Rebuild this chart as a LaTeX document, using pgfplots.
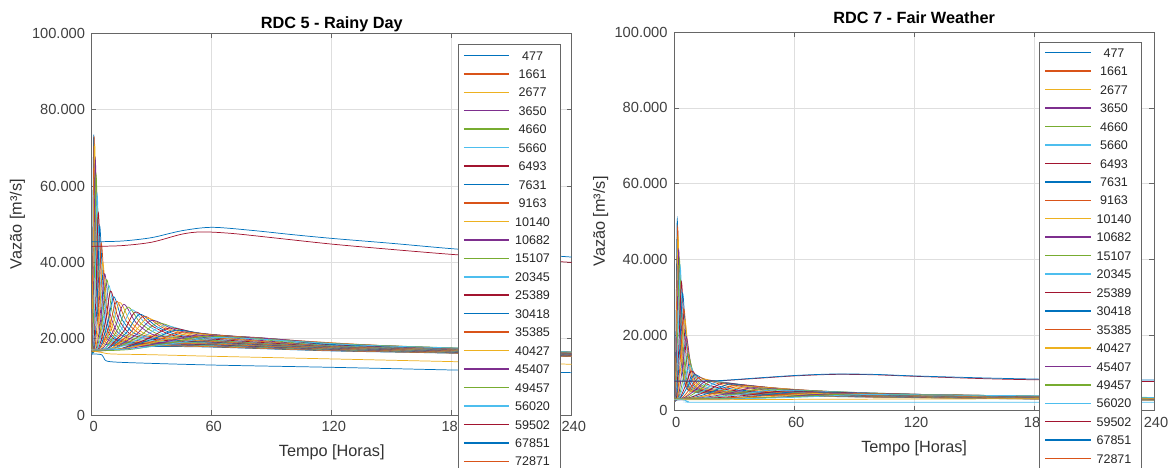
\documentclass[border=0pt]{standalone}
\usepackage{fontspec}
\setmainfont{Liberation Sans}
\usepackage{pgfplots}
\pgfplotsset{compat=1.18}

% MATLAB default line colours
\definecolor{c1}{RGB}{0,114,189}
\definecolor{c2}{RGB}{217,83,25}
\definecolor{c3}{RGB}{237,177,32}
\definecolor{c4}{RGB}{126,47,142}
\definecolor{c5}{RGB}{119,172,48}
\definecolor{c6}{RGB}{77,190,238}
\definecolor{c7}{RGB}{162,20,47}

\newcommand{\lgd}[1]{\addlegendentry{\makebox[30pt][c]{#1}}}

\pgfplotsset{
  rdc/.style={
    scale only axis,
    xmin=0, xmax=240, ymin=0, ymax=100000,
    xtick={0,60,120,180,240}, xticklabels={0,60,120,180,240},
    ytick={0,20000,40000,60000,80000,100000},
    yticklabels={0,20.000,40.000,60.000,80.000,100.000},
    scaled y ticks=false,
    grid=major, grid style={black!13, line width=0.5pt},
    axis line style={black!60}, tick style={black!60, line width=0.5pt},
    major tick length=3.5pt, tick align=inside,
    tick label style={font=\fontsize{11}{13}\selectfont, text=black!75},
    yticklabel style={xshift=-1.5pt},
    xticklabel style={yshift=-1pt, xshift=1.5pt},
    label style={font=\fontsize{12.2}{14}\selectfont, text=black!80},
    title style={font=\bfseries\fontsize{12.2}{14}\selectfont, at={(0.5,1)}, anchor=south},
    xlabel={Tempo [Horas]}, ylabel={Vazão [m³/s]},
    legend style={at={(rel axis cs:1,1)}, anchor=north east, draw=black!60, fill=white,
      line width=0.5pt, font=\fontsize{9.4}{11}\selectfont, text=black!85,
      inner xsep=3.75pt, inner ysep=4.5pt, row sep=6.84pt, column sep=0pt,
      nodes={inner ysep=0pt, text height=7pt, text depth=0pt}},
    legend image code/.code={\draw[#1, line width=1.1pt] (0pt,0pt) -- (34pt,0pt);},
    every axis plot/.append style={line width=0.55pt, smooth},
  }
}

\begin{document}
\begin{tikzpicture}

% ---------------- RDC 5 - Rainy Day ----------------
\begin{axis}[rdc, at={(68.8pt,39pt)}, anchor=south west, width=360pt, height=286.1pt,
  title={RDC 5 - Rainy Day}, title style={yshift=-8.25pt},
  xlabel style={at={(axis description cs:0.5,-0.0989)}, anchor=center},
  ylabel style={at={(axis description cs:-0.1547,0.5)}, anchor=center},
  legend style={xshift=-8.4pt, yshift=-8.1pt}]
\addplot[draw=c1] coordinates {(0,17000)(0.5,45000)(1,73500)(1.8,45000)(3,26000)(5,19500)(10,18300)(30,18000)(60,17800)(120,16800)(180,16200)(240,15300)}; \lgd{477}
\addplot[draw=c2] coordinates {(0,16800)(0.6,44000)(1.2,73000)(2.1,44000)(3.5,25500)(6,19600)(12,18500)(30,18200)(60,17900)(120,16900)(180,16250)(240,15350)}; \lgd{1661}
\addplot[draw=c3] coordinates {(0,17200)(0.8,42000)(1.5,71000)(2.5,43000)(4,25500)(7,19700)(14,18600)(30,18300)(60,18000)(120,16950)(180,16300)(240,15400)}; \lgd{2677}
\addplot[draw=c4] coordinates {(0,16900)(0.3,17500)(1.1,40000)(1.8,67000)(3,40000)(4.8,25000)(8,19800)(15,18700)(30,18400)(60,18100)(120,17000)(180,16350)(240,15450)}; \lgd{3650}
\addplot[draw=c5] coordinates {(0,17000)(0.5,17600)(1.4,38000)(2.2,63000)(3.5,38500)(5.5,24500)(9,19900)(16,18800)(30,18500)(60,18200)(120,17100)(180,16400)(240,15500)}; \lgd{4660}
\addplot[draw=c6] coordinates {(0,16600)(0.8,17300)(1.8,35000)(2.7,58000)(4.2,36000)(6.5,23500)(10,19900)(17,18900)(30,18600)(60,18300)(120,17200)(180,16450)(240,15550)}; \lgd{5660}
\addplot[draw=c7] coordinates {(0,17000)(1,17500)(2.2,33000)(3.3,53000)(5,34000)(7.5,23000)(11,20000)(18,19000)(30,18700)(60,18400)(120,17250)(180,16500)(240,15600)}; \lgd{6493}
\addplot[draw=c1] coordinates {(0,16800)(1.3,17300)(2.8,31000)(4,49500)(5.8,32500)(8.5,22800)(12,20100)(19,19100)(30,18800)(60,18500)(120,17300)(180,16550)(240,15650)}; \lgd{7631}
\addplot[draw=c2] coordinates {(0,17200)(1.6,17600)(3.4,29000)(4.8,45000)(6.8,30500)(9.8,22500)(13.5,20200)(20,19200)(30,18900)(60,18600)(120,17350)(180,16600)(240,15700)}; \lgd{9163}
\addplot[draw=c3] coordinates {(0,16900)(2,17400)(4,27500)(5.5,40000)(7.7,28500)(11,22300)(15,20300)(22,19300)(30,19000)(60,18700)(120,17400)(180,16650)(240,15750)}; \lgd{10140}
\addplot[draw=c4] coordinates {(0,17000)(2.3,17500)(4.7,26000)(6.5,37000)(9,27000)(12.5,22000)(17,20400)(24,19400)(35,19000)(60,18800)(120,17450)(180,16700)(240,15800)}; \lgd{10682}
\addplot[draw=c5] coordinates {(0,16700)(2.6,17300)(5.4,25500)(7.5,35500)(10.4,26500)(14.5,21800)(19.5,20400)(27,19500)(40,19100)(60,18900)(120,17500)(180,16750)(240,15850)}; \lgd{15107}
\addplot[draw=c6] coordinates {(0,17100)(3,17600)(6.2,25000)(8.5,34000)(11.8,26000)(16.5,21700)(22,20400)(30,19600)(42,19200)(60,19000)(120,17550)(180,16800)(240,15900)}; \lgd{20345}
\addplot[draw=c7] coordinates {(0,16800)(3.3,17300)(6.9,24500)(9.5,32500)(13.2,25500)(18.5,21500)(24.5,20400)(33,19700)(45,19300)(60,19100)(120,17600)(180,16850)(240,15950)}; \lgd{25389}
\addplot[draw=c1] coordinates {(0,17000)(3.8,17400)(8,24000)(11,31000)(15.2,25000)(21,21500)(28,20400)(37,19800)(48,19400)(60,19200)(120,17650)(180,16900)(240,16000)}; \lgd{30418}
\addplot[draw=c2] coordinates {(0,17200)(4.4,17600)(9.1,23600)(12.5,29800)(17.3,24600)(24,21300)(31.5,20400)(41,19800)(60,19300)(120,17700)(180,16950)(240,16050)}; \lgd{35385}
\addplot[draw=c3] coordinates {(0,16900)(4.9,17400)(10.2,23300)(14,29500)(19.3,24500)(26.5,21300)(35,20400)(45,19900)(60,19400)(120,17750)(180,17000)(240,16100)}; \lgd{40427}
\addplot[draw=c4] coordinates {(0,17000)(5.6,17500)(11.7,23000)(16,29000)(22,24300)(30,21200)(39,20400)(50,19900)(60,19500)(120,17800)(180,17050)(240,16100)}; \lgd{45407}
\addplot[draw=c5] coordinates {(0,16800)(6.3,17300)(13.1,22600)(18,28300)(24.6,24000)(33.5,21100)(43.5,20300)(60,19600)(120,17850)(180,17100)(240,16150)}; \lgd{49457}
\addplot[draw=c6] coordinates {(0,17100)(7,17600)(14.6,22300)(20,27600)(27.4,23700)(37,21000)(48,20300)(60,19800)(120,17900)(180,17150)(240,16200)}; \lgd{56020}
\addplot[draw=c7] coordinates {(0,16900)(7.7,17400)(16,22000)(22,27000)(30,23400)(40.5,20900)(52,20300)(60,19900)(120,17950)(180,17200)(240,16200)}; \lgd{59502}
\addplot[draw=c1] coordinates {(0,17000)(8.4,17500)(17.5,21700)(24,26400)(32.7,23100)(44,20900)(60,20200)(80,19500)(120,18000)(180,17250)(240,16250)}; \lgd{67851}
\addplot[draw=c2] coordinates {(0,16700)(9.1,17300)(19,21400)(26,25900)(35.4,22900)(47.5,20900)(60,20300)(120,18050)(180,17300)(240,16250)}; \lgd{72871}
\addplot[draw=c3, forget plot] coordinates {(0,17100)(9.8,17500)(20.5,21300)(28,25300)(38,22700)(51,20900)(64,20300)(120,18100)(180,17300)(240,16300)};
\addplot[draw=c4, forget plot] coordinates {(0,16900)(10.5,17400)(22,21000)(30,24800)(40.8,22500)(54.5,20900)(68,20300)(120,18150)(180,17350)(240,16300)};
\addplot[draw=c5, forget plot] coordinates {(0,17000)(11.5,17500)(24,20700)(33,24100)(45,22200)(60,20900)(75,20300)(120,18200)(180,17400)(240,16350)};
\addplot[draw=c6, forget plot] coordinates {(0,17200)(12.6,17600)(26,20500)(36,23400)(49,21900)(65,20800)(82,20200)(120,18300)(180,17400)(240,16350)};
\addplot[draw=c7, forget plot] coordinates {(0,16800)(13.6,17300)(28.5,20100)(39,22800)(53,21500)(70,20700)(88,20100)(120,18400)(180,17450)(240,16400)};
\addplot[draw=c1, forget plot] coordinates {(0,17000)(14.7,17400)(30.5,19900)(42,22200)(57,21200)(75,20500)(95,19800)(120,18500)(180,17500)(240,16400)};
\addplot[draw=c2, forget plot] coordinates {(0,16900)(15.7,17300)(32.7,19600)(45,21700)(61,21000)(80,20300)(100,19600)(140,18300)(180,17500)(240,16450)};
\addplot[draw=c3, forget plot] coordinates {(0,17100)(16.8,17500)(35,19500)(48,21300)(65,20700)(85,20100)(110,19200)(150,18100)(200,17200)(240,16450)};
\addplot[draw=c4, forget plot] coordinates {(0,17000)(18.2,17400)(38,19300)(52,20900)(70,20500)(92,19900)(120,18800)(160,17900)(200,17200)(240,16500)};
\addplot[draw=c5, forget plot] coordinates {(0,16800)(19.6,17200)(41,19100)(56,20600)(76,20200)(100,19400)(130,18500)(180,17600)(240,16500)};
\addplot[draw=c6, forget plot] coordinates {(0,17000)(21,17400)(44,19000)(60,20300)(80,20000)(105,19200)(135,18300)(185,17500)(240,16500)};
% lower and upper branches
\addplot[draw=c3, forget plot] coordinates {(0,16800)(5,16400)(10,16000)(30,15800)(60,15400)(120,14700)(180,14000)(240,13300)};
\addplot[draw=c1, forget plot] coordinates {(0,16000)(5,15800)(6.5,14500)(9,14000)(20,13700)(60,13100)(120,12500)(180,11800)(240,11100)};
\addplot[draw=c7, forget plot] coordinates {(0,44200)(15,44400)(30,45300)(45,47400)(55,48000)(70,47600)(90,46500)(120,44800)(150,43400)(180,42100)(210,41000)(240,40000)};
\addplot[draw=c1, forget plot] coordinates {(0,45400)(15,45600)(30,46500)(45,48300)(60,49200)(80,48400)(100,47300)(120,46300)(150,45000)(180,43600)(210,42500)(240,41400)};
\end{axis}

% ---------------- RDC 7 - Fair Weather ----------------
\begin{axis}[rdc, at={(505.7pt,42.2pt)}, anchor=south west, width=359.8pt, height=283.9pt,
  title={RDC 7 - Fair Weather}, title style={yshift=-3pt},
  xlabel style={at={(axis description cs:0.5,-0.0993)}, anchor=center},
  ylabel style={at={(axis description cs:-0.1534,0.5)}, anchor=center},
  legend style={xshift=-9pt, yshift=-7.1pt}]
\addplot[draw=c1] coordinates {(0,3000)(0.4,5000)(1,30000)(1.5,50500)(2.3,30000)(3.5,13000)(6,6000)(12,4800)(30,4300)(60,3900)(120,3450)(180,3100)(240,2800)}; \lgd{477}
\addplot[draw=c2] coordinates {(0,2900)(0.5,4800)(1.15,28000)(1.7,48500)(2.6,29000)(3.9,12500)(6.5,6000)(13,4850)(30,4350)(60,3950)(120,3480)(180,3120)(240,2820)}; \lgd{1661}
\addplot[draw=c3] coordinates {(0,3100)(0.6,4800)(1.3,27000)(1.9,46000)(2.9,27500)(4.3,12000)(7,6000)(14,4900)(30,4400)(60,4000)(120,3500)(180,3150)(240,2850)}; \lgd{2677}
\addplot[draw=c4] coordinates {(0,3000)(0.7,4600)(1.5,25000)(2.2,42500)(3.3,25500)(4.8,11500)(7.5,6000)(15,4950)(30,4450)(60,4050)(120,3530)(180,3170)(240,2870)}; \lgd{3650}
\addplot[draw=c5] coordinates {(0,2900)(0.9,4400)(1.8,23500)(2.6,40000)(3.8,24000)(5.4,11000)(8,6000)(16,5000)(30,4500)(60,4100)(120,3560)(180,3200)(240,2900)}; \lgd{4660}
\addplot[draw=c6] coordinates {(0,3100)(1,4300)(2.1,22500)(3,38000)(4.3,23000)(6,10500)(8.7,6000)(17,5050)(30,4550)(60,4150)(120,3590)(180,3220)(240,2920)}; \lgd{5660}
\addplot[draw=c7] coordinates {(0,3000)(1.2,4000)(2.5,20000)(3.6,34000)(5,21000)(6.8,10000)(9.5,6000)(18,5100)(30,4600)(60,4200)(120,3620)(180,3250)(240,2950)}; \lgd{6493}
\addplot[draw=c1] coordinates {(0,2900)(1.4,3800)(2.9,18500)(4.2,31000)(5.8,19500)(7.7,9800)(10.5,6100)(19,5150)(32,4650)(60,4250)(120,3650)(180,3270)(240,2970)}; \lgd{7631}
\addplot[draw=c2] coordinates {(0,3100)(1.6,3800)(3.4,16500)(4.8,27000)(6.5,17000)(8.5,9300)(11.5,6100)(20,5200)(33,4700)(60,4300)(120,3680)(180,3300)(240,3000)}; \lgd{9163}
\addplot[draw=c3] coordinates {(0,3000)(1.8,3700)(3.7,14500)(5.3,24000)(7.1,15500)(9.2,9000)(12.5,6200)(21,5250)(35,4750)(60,4350)(120,3710)(180,3320)(240,3020)}; \lgd{10140}
\addplot[draw=c4] coordinates {(0,2900)(2,3500)(4.2,12000)(6,19500)(8,13000)(10.2,8300)(13.5,6300)(22,5300)(36,4800)(60,4400)(120,3740)(180,3350)(240,3050)}; \lgd{10682}
\addplot[draw=c5] coordinates {(0,3100)(2.3,3600)(4.8,9500)(6.8,15000)(9,11000)(11.5,7800)(15,6400)(24,5350)(38,4850)(60,4450)(120,3770)(180,3370)(240,3070)}; \lgd{15107}
\addplot[draw=c6] coordinates {(0,3000)(2.5,3500)(5.3,8000)(7.6,12000)(10,9700)(13,7500)(17,6500)(26,5400)(40,4900)(60,4500)(120,3800)(180,3400)(240,3100)}; \lgd{20345}
\addplot[draw=c7] coordinates {(0,2900)(2.8,3300)(6,7200)(8.5,10500)(11.3,9100)(14.5,7600)(19,6500)(28,5450)(42,4950)(60,4550)(120,3830)(180,3420)(240,3120)}; \lgd{25389}
\addplot[draw=c1] coordinates {(0,3100)(3.3,3500)(7,6700)(10,9500)(13.5,8700)(17.5,7500)(23,6400)(32,5500)(45,5000)(60,4600)(120,3860)(180,3450)(240,3150)}; \lgd{30418}
\addplot[draw=c2] coordinates {(0,3000)(4,3400)(8.4,6200)(12,8700)(16,8200)(21,7300)(27,6400)(36,5550)(48,5000)(60,4650)(120,3890)(180,3470)(240,3170)}; \lgd{35385}
\addplot[draw=c3] coordinates {(0,2900)(4.6,3300)(9.8,5900)(14,8300)(19,7900)(25,7100)(32,6300)(42,5500)(60,4700)(120,3920)(180,3500)(240,3200)}; \lgd{40427}
\addplot[draw=c4] coordinates {(0,3100)(5.3,3500)(11.2,5800)(16,8000)(21.5,7700)(28,7000)(36,6200)(46,5450)(60,4750)(120,3950)(180,3520)(240,3220)}; \lgd{45407}
\addplot[draw=c5] coordinates {(0,3000)(6,3400)(12.6,5500)(18,7800)(24,7500)(31.5,6900)(40,6100)(50,5400)(60,4850)(120,3980)(180,3550)(240,3250)}; \lgd{49457}
\addplot[draw=c6] coordinates {(0,2900)(7,3300)(14.7,5300)(21,7600)(28,7300)(36,6700)(45,6000)(56,5300)(70,4700)(120,4010)(180,3570)(240,3270)}; \lgd{56020}
\addplot[draw=c7] coordinates {(0,3100)(8,3500)(16.8,5300)(24,7300)(32,7000)(41,6500)(51,5900)(63,5200)(80,4600)(120,4040)(180,3600)(240,3300)}; \lgd{59502}
\addplot[draw=c1] coordinates {(0,3000)(9,3400)(19,5000)(27,7000)(36,6700)(46,6200)(57,5700)(70,5100)(90,4500)(120,4070)(180,3620)(240,3300)}; \lgd{67851}
\addplot[draw=c2] coordinates {(0,2900)(10,3300)(21,4800)(30,6700)(40,6450)(51,6000)(63,5500)(78,5000)(100,4400)(140,3900)(180,3650)(240,3300)}; \lgd{72871}
\addplot[draw=c3, forget plot] coordinates {(0,3100)(11.3,3500)(23.8,4700)(34,6300)(45,6100)(57,5750)(70,5300)(86,4850)(110,4300)(150,3850)(200,3550)(240,3300)};
\addplot[draw=c4, forget plot] coordinates {(0,3000)(12.7,3400)(26.6,4500)(38,6000)(50,5800)(63,5500)(77,5100)(95,4700)(120,4250)(160,3850)(200,3550)(240,3300)};
\addplot[draw=c5, forget plot] coordinates {(0,2900)(14,3300)(29.4,4300)(42,5700)(55,5550)(69,5300)(85,4950)(105,4600)(130,4200)(170,3800)(240,3300)};
\addplot[draw=c6, forget plot] coordinates {(0,3100)(15.7,3400)(33,4300)(47,5400)(61,5300)(77,5050)(95,4750)(120,4350)(150,4000)(200,3600)(240,3350)};
\addplot[draw=c7, forget plot] coordinates {(0,3000)(17.3,3300)(36.4,4100)(52,5100)(68,5000)(85,4800)(105,4550)(130,4250)(165,3900)(240,3350)};
\addplot[draw=c1, forget plot] coordinates {(0,2900)(19.3,3200)(40.6,3900)(58,4900)(75,4800)(95,4600)(120,4350)(150,4050)(190,3700)(240,3350)};
\addplot[draw=c2, forget plot] coordinates {(0,3100)(21.3,3300)(44.8,3900)(64,4700)(83,4620)(105,4450)(130,4250)(160,4000)(200,3700)(240,3400)};
\addplot[draw=c3, forget plot] coordinates {(0,3000)(23.3,3200)(49,3750)(70,4550)(91,4480)(115,4330)(140,4150)(175,3900)(240,3400)};
\addplot[draw=c4, forget plot] coordinates {(0,2900)(25.7,3100)(54,3650)(77,4450)(100,4380)(125,4250)(155,4050)(195,3750)(240,3450)};
\addplot[draw=c5, forget plot] coordinates {(0,3100)(28,3250)(59,3700)(84,4350)(109,4300)(135,4180)(165,4000)(200,3800)(240,3450)};
\addplot[draw=c6, forget plot] coordinates {(0,3000)(30.7,3150)(64,3600)(92,4250)(120,4200)(150,4080)(180,3950)(210,3750)(240,3500)};
% lower and upper branches
\addplot[draw=c3, forget plot] coordinates {(0,3000)(5,2950)(10,2900)(60,3000)(120,3100)(180,3150)(240,3150)};
\addplot[draw=c6, forget plot] coordinates {(0,2900)(5,2850)(7,2400)(10,2250)(60,2250)(120,2250)(180,2250)(240,2250)};
\addplot[draw=c7, forget plot] coordinates {(0,7800)(20,7850)(40,8500)(60,9200)(80,9600)(100,9500)(120,9100)(160,8400)(200,8000)(240,7700)};
\addplot[draw=c1, forget plot] coordinates {(0,7850)(20,7900)(40,8600)(60,9300)(80,9700)(100,9600)(120,9200)(160,8600)(200,8200)(240,8100)};
\end{axis}

\pgfresetboundingbox
\path[use as bounding box] (0pt,0pt) rectangle (876.75pt,350.25pt);
\end{tikzpicture}
\end{document}
